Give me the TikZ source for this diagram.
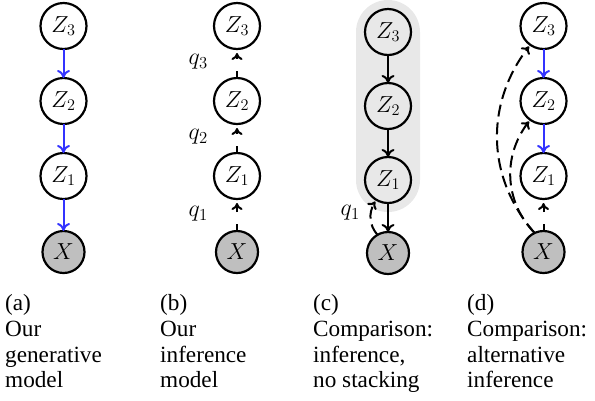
\RequirePackage{fix-cm}
\documentclass[tikz,border=0pt]{standalone}
\usepackage[no-math]{fontspec}
\newfontfamily\capfont{Liberation Serif}
\usetikzlibrary{arrows.meta,bending}
\begin{document}
\begin{tikzpicture}[x=1bp,y=-1bp,
  zn/.style={circle,draw,line width=2.2bp,minimum size=46bp,inner sep=0pt,outer sep=0pt,font=\fontsize{23.3}{28}\selectfont},
  xn/.style={zn,minimum size=42bp,fill=black!25},
  gen/.style={-{Computer Modern Rightarrow[length=8bp,width=13bp]},line width=2bp,draw=blue!80},
  genk/.style={gen,draw=black},
  inf/.style={-{Computer Modern Rightarrow[length=7bp,width=11bp]},line width=2bp,dash pattern=on 7bp off 12bp,shorten >=4bp},
  infc/.style={inf,dash pattern=on 12bp off 6bp,shorten >=2bp},
  ql/.style={font=\fontsize{24}{28}\selectfont,inner sep=0pt,anchor=east},
  capt/.style={font=\capfont\fontsize{23.3}{25.8}\selectfont,align=left,inner sep=0pt,anchor=north west}
]
\useasboundingbox (0,0) rectangle (595,400);
% (c) background
\fill[black!9,rounded corners=32bp] (356,0) rectangle (420,212);
% (a)
\node[zn] (a3) at (63.5,26) {$Z_3$};
\node[zn] (a2) at (63.5,101) {$Z_2$};
\node[zn] (a1) at (63.5,176) {$Z_1$};
\node[xn] (ax) at (63.5,252) {$X$};
\draw[gen] (a3) -- (a2);
\draw[gen] (a2) -- (a1);
\draw[gen] (a1) -- (ax);
% (b)
\node[zn] (b3) at (237,26) {$Z_3$};
\node[zn] (b2) at (237,101) {$Z_2$};
\node[zn] (b1) at (237,176) {$Z_1$};
\node[xn] (bx) at (237,252) {$X$};
\draw[inf] (bx) -- (b1);
\draw[inf] (b1) -- (b2);
\draw[inf] (b2) -- (b3);
\node[ql] (q3) at (208,62) {$q_3$};
\node[ql] (q2) at (208,137) {$q_2$};
\node[ql] (q1) at (208,214) {$q_1$};
% (c)
\node[zn] (c3) at (388,32) {$Z_3$};
\node[zn] (c2) at (388,106) {$Z_2$};
\node[zn] (c1) at (388,180) {$Z_1$};
\node[xn] (cx) at (388,253) {$X$};
\draw[genk] (c3) -- (c2);
\draw[genk] (c2) -- (c1);
\draw[genk] (c1) -- (cx);
\draw[infc] (cx.120) to[bend left=40] (c1.240);
\node[ql] (cq1) at (360,213) {$q_1$};
% (d)
\node[zn] (d3) at (543.5,26) {$Z_3$};
\node[zn] (d2) at (543.5,101) {$Z_2$};
\node[zn] (d1) at (543.5,176) {$Z_1$};
\node[xn] (dx) at (543.5,252) {$X$};
\draw[gen] (d3) -- (d2);
\draw[gen] (d2) -- (d1);
\draw[inf] (dx) -- (d1);
\draw[infc] (dx.115) to[bend left=42] (d2.235);
\draw[infc] (dx.115) to[bend left=40] (d3.235);
% captions
\node[capt] (capa) at (5,294.5) {(a)\\Our\\generative\\model};
\node[capt] (capb) at (160,294.5) {(b)\\Our\\inference\\model};
\node[capt] (capc) at (313,294.5) {(c)\\Comparison:\\inference,\\no stacking};
\node[capt] (capd) at (467,294.5) {(d)\\Comparison:\\alternative\\inference};
\end{tikzpicture}
\end{document}
